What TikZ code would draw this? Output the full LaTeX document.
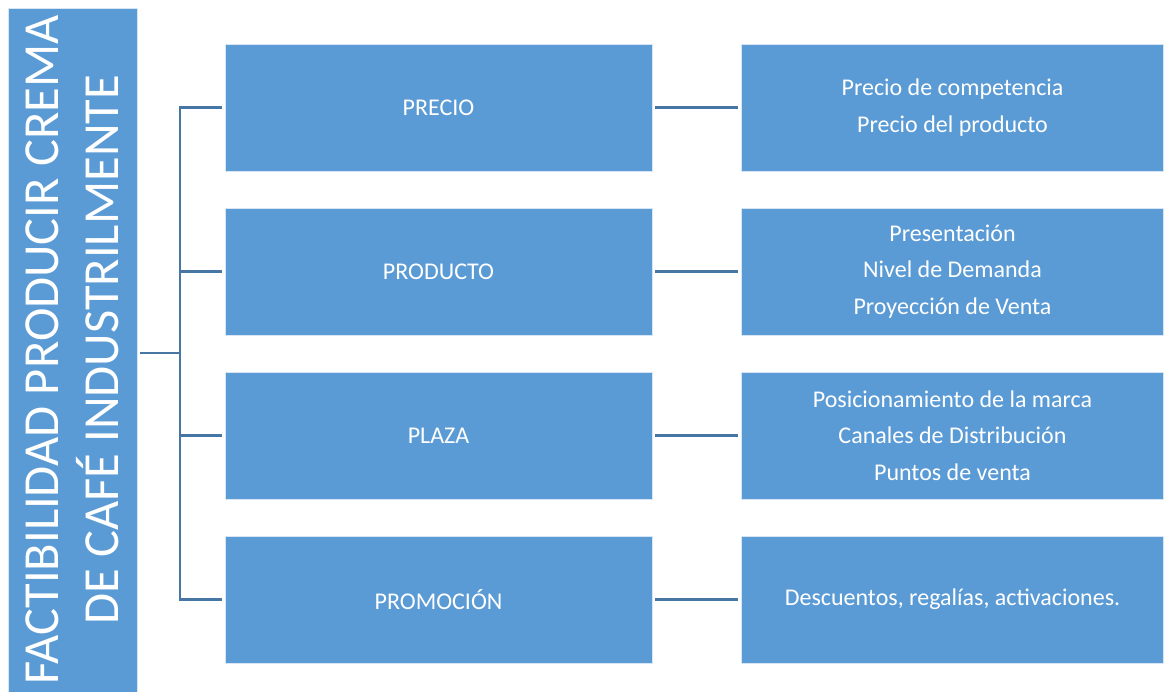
\documentclass[tikz,border=0pt]{standalone}
\usepackage{fontspec}
\setmainfont{Carlito}
\usetikzlibrary{positioning}
\definecolor{cajaazul}{RGB}{91,155,213}
\definecolor{lineaazul}{RGB}{70,118,163}

\begin{document}
\begin{tikzpicture}[x=1pt,y=-1pt,
	caja/.style={fill=cajaazul, draw=white!75!cajaazul, line width=0.8pt, text=white,
		inner sep=0pt, align=center, font=\fontsize{24}{36.5}\selectfont},
	medio/.style={caja, minimum width=427pt, minimum height=127pt},
	derecha/.style={caja, minimum width=422pt, minimum height=127pt},
	linea/.style={draw=lineaazul, line width=2.6pt}]

	\useasboundingbox (0,0) rectangle (1164,691);

	% caja del titulo
	\node[caja, rotate=90, minimum width=684pt, minimum height=129pt,
		font=\fontsize{50.5}{60}\selectfont] (titulo) at (72.5,350)
		{FACTIBILIDAD PRODUCIR CREMA\\DE CAFÉ INDUSTRILMENTE};

	% cajas del medio
	\node[medio] (precio) at (438.5,107.5) {PRECIO};
	\node[medio] (producto) at (438.5,271.5) {PRODUCTO};
	\node[medio] (plaza) at (438.5,435.5) {PLAZA};
	\node[medio] (promocion) at (438.5,599.5) {PROMOCIÓN};

	% cajas de la derecha
	\node[derecha] (precioD) at (952.5,107.5) {Precio de competencia\\Precio del producto};
	\node[derecha] (productoD) at (952.5,271.5) {Presentación\\Nivel de Demanda\\Proyección de Venta};
	\node[derecha] (plazaD) at (952.5,435.5) {Posicionamiento de la marca\\Canales de Distribución\\Puntos de venta};
	\node[derecha] (promocionD) at (952.5,599.5) {Descuentos, regalías, activaciones.};

	% conectores
	\coordinate (tronco) at (180,353);
	\draw[linea, shorten <=3pt] (titulo.south |- tronco) -- (tronco);
	\foreach \n in {precio,producto,plaza,promocion}{
		\draw[linea, shorten >=3pt] (tronco) |- (\n.west);
		\draw[linea, shorten <=3pt, shorten >=3pt] (\n.east) -- (\n D.west);
	}

\end{tikzpicture}
\end{document}
